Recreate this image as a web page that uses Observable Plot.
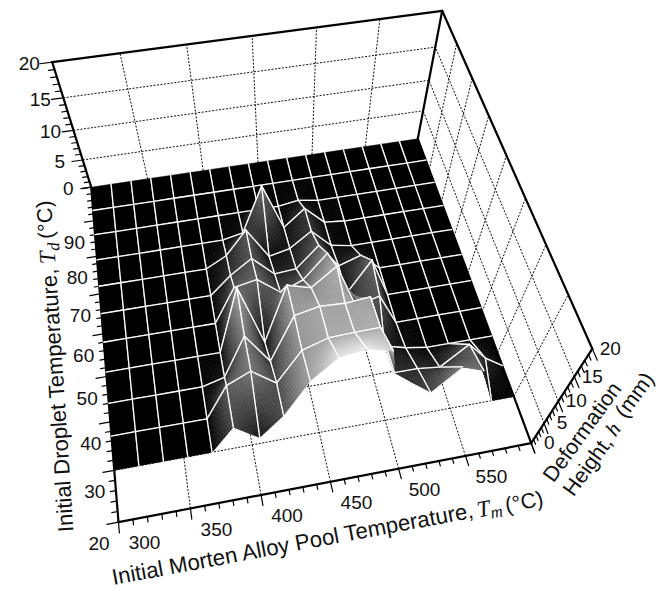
<!DOCTYPE html>
<html>
<head>
<meta charset="utf-8">
<script src="https://cdn.jsdelivr.net/npm/d3@7"></script>
<script src="https://cdn.jsdelivr.net/npm/@observablehq/plot@0.6"></script>
<style>html,body{margin:0;padding:0;background:#fff}svg{display:block}</style>
</head>
<body>
<div id="chart"></div>
<script>
// Grid of the surface
const tmGrid = [300,317.6,335.3,352.9,370.6,388.2,405.9,423.5,441.2,458.8,476.5,494.1,511.8,529.4,547.1,564.7,582.4,600];
const tdGrid = [100,93,86,79,72,65,58,51,44,37,30];
// Deformation height h (mm): one row per tdGrid value, one column per tmGrid value
const heights = [
 [0,0,0,0,0,0,0,0,0,0,0,0,0,0,0,0,0,0],
 [0,0,0,0,0,0,0,0,0,0,0,0,0,0,0,0,0,0],
 [0,0,0,0,0,0,0,0,0,0,0.6,0,0,0,0,0,0,0],
 [0,0,0,0,0,0,0,0.8,8.8,0.6,3.6,0.4,0,0,0,0,0,0],
 [0,0,0,0,0,0,2,6.2,0.5,1.4,4.1,0.7,0,0,0,0,0,0],
 [0,0,0,0,0,0,3.4,6,2.3,2.6,6.4,1.8,3.2,0,0,0,0,0],
 [0,0,0,0,0,0,6.6,7.4,4.2,5.9,10.1,1.6,7.5,0,0,0,0,0],
 [0,0,0,0,0,0,12.2,0.6,11.2,10,13.1,5,6.2,0,0,0,0,0],
 [0,0,0,0,0,1.3,9.2,3.1,11.5,12.4,12.2,12.6,2,0.8,0,0,0,0],
 [0,0,0,0,0,6.8,8.9,5.4,11.3,12.8,13,13.1,3,3,2.4,6.4,2.6,0],
 [0,0,0,0,0,5.2,1.5,5.8,12.3,15.9,16.5,15.3,null,5,9.5,7.8,0,0]
];
// Axis ticks
const tmTicks = [300,350,400,450,500,550];
const tdTicks = [20,30,40,50,60,70,80,90];
const hTicks = [0,5,10,15,20];
const tmMinor = d3.range(300,601,10);
const tdMinor = d3.range(20,101,2);
const hMinor = d3.range(0,21,1);

// Perspective view of the box Tm 300-600, Td 20-100, h 0-20
function view(tm, td, h) {
  const u = (tm - 300) / 300, v = (td - 20) / 80, w = h / 20;
  const d = 0.05554*u + 0.28292*v + 1 - 0.212*w;
  return [(442.18*u - 1.64*v + 118 - 60.99*w) / d,
          (-54.41*u - 282.18*v + 521.7 - 173.5*w) / d];
}
const shade = d3.scaleLinear().domain([0,13,17.5]).range([0,170,255]).clamp(true);
const gray = h => { const g = Math.round(shade(h)); return `rgb(${g},${g},${g})`; };

// Painter's order: far rows first, and inside a row far columns first
let nextId = 0;
const rows = [];
function poly(points, fill, stroke, width) {
  const id = nextId++;
  for (const p of points) {
    const [x,y] = view(p[0],p[1],p[2]);
    rows.push({id, x, y, fill, stroke, width});
  }
}
const node = (i,r) => heights[r][i] == null ? null : [tmGrid[i], tdGrid[r], heights[r][i]];
const colOrder = d3.range(17).sort((a,b) => Math.abs(b+0.5-4.7) - Math.abs(a+0.5-4.7));
const mix = (a,b) => a.map((c,k) => (c+b[k])/2);
for (let r = 0; r < 10; r++) {
  for (const i of colOrder) {
    let a = node(i,r), b = node(i+1,r), c = node(i+1,r+1), e = node(i,r+1);
    const nulls = [a,b,c,e].filter(q => !q).length;
    if (nulls > 1) continue;
    const rawC = c, rawE = e;
    if (!a) a = mix(b,e); if (!b) b = mix(a,c); if (!c) c = mix(b,e); if (!e) e = mix(a,c);
    const flat = a[2]===0 && b[2]===0 && c[2]===0 && e[2]===0;
    const n = flat ? 1 : 12;
    const at = (s,t) => a.map((q,k) => (1-t)*((1-s)*a[k]+s*b[k]) + t*((1-s)*e[k]+s*c[k]));
    for (let ss = 0; ss < n; ss++) for (let tt = 0; tt < n; tt++) {
      const p = [at(ss/n,tt/n), at((ss+1)/n,tt/n), at((ss+1)/n,(tt+1)/n), at(ss/n,(tt+1)/n)];
      const mean = d3.mean(p, q => q[2]);
      const col = gray(mean);
      poly([...p, p[0]], col, col, 0.5);
    }
    // grid lines around the cell (the outer border of the sheet has none)
    const edge = (p,q) => poly([p,q], "none", "#fff", 1.3);
    if (r > 0 && node(i,r) && node(i+1,r)) edge(node(i,r), node(i+1,r));
    if (r+1 < 10 && rawE && rawC) edge(rawE, rawC);
    if (i > 0 && node(i,r) && rawE) edge(node(i,r), rawE);
    if (i+1 < 17 && node(i+1,r) && rawC) edge(node(i+1,r), rawC);
  }
}

// Box lines
const seg = (list) => list.flatMap((pair, k) => pair.map(p => { const [x,y] = view(...p); return {k,x,y}; }));
const dotted = seg([
  ...tmTicks.slice(1).map(t => [[t,20,0],[t,100,0]]),
  ...tdTicks.slice(1).map(t => [[300,t,0],[600,t,0]]),
  ...tmTicks.slice(1).map(t => [[t,100,0],[t,100,20]]),
  ...[5,10,15].map(h => [[300,100,h],[600,100,h]]),
  ...tdTicks.slice(1).map(t => [[600,t,0],[600,t,20]]),
  ...[5,10,15].map(h => [[600,20,h],[600,100,h]])
]);
const thick = seg([
  [[300,20,0],[600,20,0]], [[300,20,0],[300,100,0]], [[600,20,0],[600,100,0]],
  [[300,100,0],[300,100,20]], [[600,100,0],[600,100,20]], [[600,20,0],[600,20,20]],
  [[300,100,20],[600,100,20]], [[600,100,20],[600,20,20]]
]);
const ticks = seg([
  ...tmMinor.map(t => [[t,20,0],[t,20 - (t%50===0 ? 2 : 1),0]]),
  ...tdMinor.map(t => [[300,t,0],[300 - (t%10===0 ? 8 : 4),t,0]]),
  ...hMinor.map(h => [[300,100,h],[300 - (h%5===0 ? 9 : 4.5),100,h]]),
  ...hMinor.map(h => [[600,20,h],[600,20 - (h%5===0 ? 2 : 1),h]])
]);
const place = (list, f) => list.map(t => { const [x,y] = f(t); return {x,y,t:String(t)}; });

const sans = "Liberation Sans, Arial, sans-serif";
const serif = "Liberation Serif, Times New Roman, serif";
const A1 = -93.8, A2 = -10.6, A3 = -54;
const titleParts = [
  {t:"Initial Droplet Temperature,", x:73, y:531, r:A1, f:sans, s:22, st:"normal"},
  {t:"T", x:55, y:263, r:A1, f:serif, s:23, st:"italic"},
  {t:"d", x:59, y:250, r:A1, f:serif, s:17, st:"italic"},
  {t:"(°C)", x:53, y:238, r:A1, f:sans, s:21.5, st:"normal"},
  {t:"Initial Morten Alloy Pool Temperature,", x:113, y:584.5, r:A2, f:sans, s:22.2, st:"normal"},
  {t:"T", x:478, y:517, r:A2, f:serif, s:23, st:"italic"},
  {t:"m", x:491, y:518, r:A2, f:serif, s:17, st:"italic"},
  {t:"(°C)", x:506, y:512, r:A2, f:sans, s:21.5, st:"normal"},
  {t:"Deformation", x:553, y:483, r:A3, f:sans, s:21.5, st:"normal"},
  {t:"Height,", x:573, y:497, r:A3, f:sans, s:21.5, st:"normal"},
  {t:"h", x:615, y:437, r:A3, f:serif, s:21, st:"italic"},
  {t:"(mm)", x:625, y:419, r:A3, f:sans, s:21.5, st:"normal"}
];
const labelOpts = {x:"x", y:"y", text:"t", fontSize:19, fontFamily:sans, fill:"#111"};

const chart = Plot.plot({
  width: 667, height: 589,
  margin: 0,
  x: {domain:[0,667], range:[0,667], axis:null},
  y: {domain:[0,589], range:[0,589], axis:null},
  color: {type:"identity"},
  marks: [
    Plot.line(dotted, {x:"x", y:"y", z:"k", stroke:"#111", strokeWidth:1, strokeDasharray:"2,1.5", strokeLinecap:"butt"}),
    Plot.line(thick, {x:"x", y:"y", z:"k", stroke:"#000", strokeWidth:2.2}),
    Plot.line(ticks, {x:"x", y:"y", z:"k", stroke:"#000", strokeWidth:1.2}),
    Plot.line(rows, {x:"x", y:"y", z:"id", fill:"fill", stroke:"stroke", strokeWidth:"width"}),
    Plot.text(place([0,5,10,15,20], h => view(300,100,h)), {...labelOpts, dx:-23, dy:2}),
    Plot.text(place(tdTicks, t => view(300,t,0)), {...labelOpts, dx:-19.5, dy:22}),
    Plot.text(place(tmTicks, t => view(t,20,0)), {...labelOpts, dx:26, dy:21}),
    Plot.text(place(hTicks, h => view(600,20,h)), {...labelOpts, dx:18, dy:0}),
    ...titleParts.map(p => Plot.text([p], {x:"x", y:"y", text:"t", rotate:p.r, textAnchor:"start", lineAnchor:"bottom",
      fontFamily:p.f, fontSize:p.s, fontStyle:p.st, fill:"#111"}))
  ]
});
document.getElementById("chart").append(chart);
</script>
</body>
</html>
